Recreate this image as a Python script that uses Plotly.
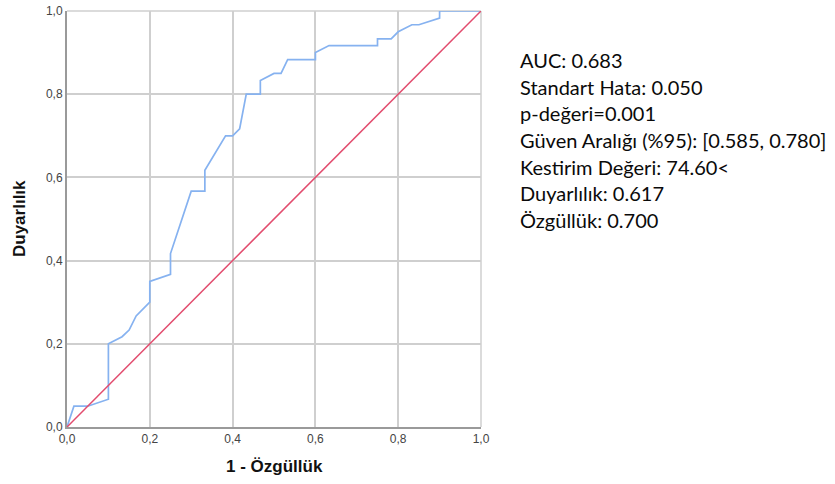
import plotly.graph_objects as go

# ROC curve points (1 - specificity, sensitivity)
fpr = [0.0, 0.0167, 0.05, 0.1, 0.1, 0.133, 0.15, 0.167, 0.2, 0.2, 0.25, 0.25,
       0.3, 0.333, 0.333, 0.383, 0.4, 0.417, 0.433, 0.467, 0.467, 0.5, 0.517,
       0.533, 0.6, 0.6, 0.633, 0.75, 0.75, 0.783, 0.8, 0.833, 0.85, 0.9, 0.9, 1.0]
tpr = [0.0, 0.05, 0.05, 0.0667, 0.2, 0.217, 0.233, 0.267, 0.3, 0.35, 0.367, 0.417,
       0.567, 0.567, 0.617, 0.7, 0.7, 0.717, 0.8, 0.8, 0.833, 0.85, 0.85,
       0.883, 0.883, 0.9, 0.917, 0.917, 0.933, 0.933, 0.95, 0.967, 0.967, 0.983, 1.0, 1.0]
ref_x = [0.0, 1.0]
ref_y = [0.0, 1.0]

ticks = [0.0, 0.2, 0.4, 0.6, 0.8, 1.0]

stats_lines = [
    "AUC: 0.683",
    "Standart Hata: 0.050",
    "p-değeri=0.001",
    "Güven Aralığı (%95): [0.585, 0.780]",
    "Kestirim Değeri: 74.60<",
    "Duyarlılık: 0.617",
    "Özgüllük: 0.700",
]

W, H = 835, 484
L, R, T, B = 67, 481, 11, 427
pw, ph = R - L, B - T

fig = go.Figure()
fig.add_trace(go.Scatter(x=fpr, y=tpr, mode="lines", cliponaxis=False,
                         line=dict(color="#86b2f0", width=1.7), showlegend=False))
fig.add_trace(go.Scatter(x=ref_x, y=ref_y, mode="lines", cliponaxis=False,
                         line=dict(color="#e24c6e", width=1.5), showlegend=False))

axis_common = dict(range=[0, 1], tickvals=ticks, tickformat=".1f", automargin=False,
                   showgrid=True, gridcolor="#cfcfcf", gridwidth=1.5,
                   zeroline=False, showline=True, linecolor="#9a9a9a", linewidth=2,
                   ticks="", tickfont=dict(family="Liberation Sans", size=12, color="#444"))

fig.update_xaxes(**axis_common)
fig.update_yaxes(**axis_common)

def px_to_paper(x, y):
    return (x - L) / pw, (B - y) / ph

annotations = []
for i, t in enumerate(stats_lines):
    ax, ay = px_to_paper(518, 60 + i * 26.67)
    annotations.append(dict(x=ax, y=ay, xref="paper", yref="paper",
                            text=t, showarrow=False, xanchor="left", yanchor="middle",
                            font=dict(family="Lato", size=20, color="#0a0a0a")))

ax, ay = px_to_paper(274, 466)
annotations.append(dict(x=ax, y=ay, xref="paper", yref="paper", text="<b>1 - Özgüllük</b>",
                        showarrow=False, xanchor="center", yanchor="middle",
                        font=dict(family="Liberation Sans", size=17, color="#111")))
ax, ay = px_to_paper(19, 219)
annotations.append(dict(x=ax, y=ay, xref="paper", yref="paper", text="<b>Duyarlılık</b>",
                        showarrow=False, xanchor="center", yanchor="middle", textangle=-90,
                        font=dict(family="Liberation Sans", size=17, color="#111")))

# light border on top / right, like the gridlines
shapes = [
    dict(type="line", xref="paper", yref="paper", x0=0, x1=1, y0=1, y1=1,
         line=dict(color="#cfcfcf", width=1.5), layer="below"),
    dict(type="line", xref="paper", yref="paper", x0=1, x1=1, y0=0, y1=1,
         line=dict(color="#cfcfcf", width=1.5), layer="below"),
]

fig.update_layout(
    width=W, height=H,
    margin=dict(l=L, r=W - R, t=T, b=H - B, autoexpand=False),
    paper_bgcolor="white", plot_bgcolor="white",
    separators=",.",
    annotations=annotations,
    shapes=shapes,
)

fig.write_html(
    "out.html",
    config={"displayModeBar": False},
    post_script="document.body.style.margin='0';document.body.style.overflow='hidden';",
)
